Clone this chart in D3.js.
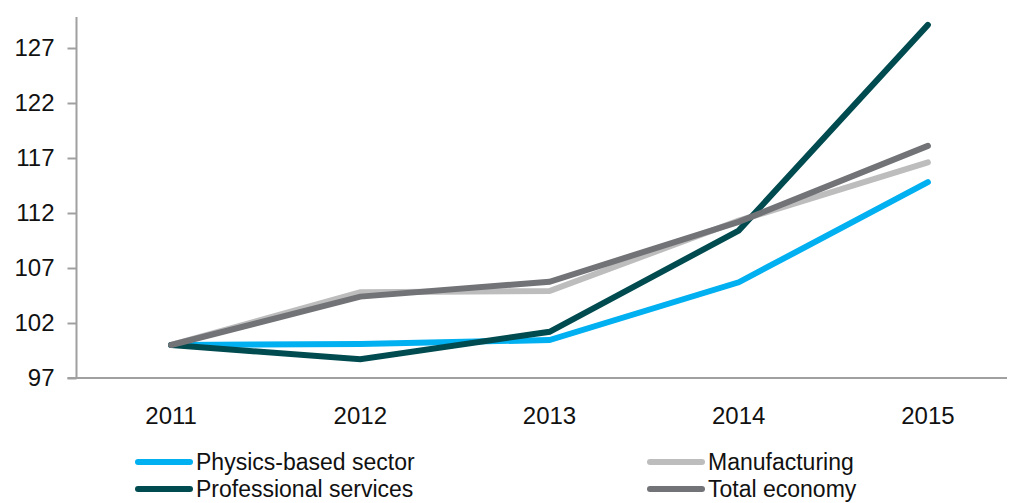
<!DOCTYPE html>
<html>
<head>
<meta charset="utf-8">
<script src="https://cdn.jsdelivr.net/npm/d3@7/dist/d3.min.js"></script>
<style>
  html, body { margin: 0; padding: 0; background: #fff; }
  svg { display: block; font-family: "Liberation Sans", Arial, sans-serif; }
</style>
</head>
<body>
<svg id="chart" width="1009" height="503"></svg>
<script>
// Index values by year (2011 = 100)
const years = ["2011", "2012", "2013", "2014", "2015"];
const physicsBased = [100, 100.1, 100.45, 105.7, 114.8];
const manufacturing = [100, 104.8, 104.9, 111.3, 116.6];
const professionalServices = [100, 98.7, 101.2, 110.4, 129.1];
const totalEconomy = [100, 104.4, 105.75, 111.2, 118.1];
const yTicks = [97, 102, 107, 112, 117, 122, 127];

const seriesNames = ["Physics-based sector", "Manufacturing", "Professional services", "Total economy"];
const seriesColors = ["#00B0F0", "#BDBDBD", "#004B50", "#727377"];
const seriesValues = [physicsBased, manufacturing, professionalServices, totalEconomy];

const series = seriesNames.map((name, i) => ({
  name, color: seriesColors[i], values: seriesValues[i]
}));

const svg = d3.select("#chart");
const axisLeftX = 76.5, axisRightX = 1007, plotTop = 17, plotBottom = 378;

const x = d3.scaleBand().domain(years).range([axisLeftX, axisLeftX + 5 * 189.2]).paddingInner(0).paddingOuter(0);
const y = d3.scaleLinear().domain([97, 97 + (plotBottom - plotTop) / 11]).range([plotBottom, plotTop]);

const axisColor = "#A0A0A0";

// Y axis
const yAxis = svg.append("g")
  .attr("transform", `translate(${axisLeftX},0)`)
  .call(d3.axisLeft(y).tickValues(yTicks).tickSize(9).tickPadding(6).tickFormat(d3.format("d")));
yAxis.select(".domain").remove();
yAxis.selectAll(".tick line").attr("stroke", axisColor).attr("stroke-width", 2);
yAxis.selectAll(".tick text")
  .attr("fill", "#111").style("font-size", "24px").attr("x", -22);
svg.append("line")
  .attr("x1", axisLeftX).attr("x2", axisLeftX)
  .attr("y1", plotTop).attr("y2", plotBottom)
  .attr("stroke", axisColor).attr("stroke-width", 2);

// X axis
const xAxis = svg.append("g")
  .attr("transform", `translate(0,${plotBottom})`)
  .call(d3.axisBottom(x).tickSize(0).tickPadding(29));
xAxis.select(".domain").remove();
xAxis.selectAll(".tick text").attr("fill", "#111").style("font-size", "24px");
svg.append("line")
  .attr("x1", axisLeftX - 9).attr("x2", axisRightX)
  .attr("y1", plotBottom).attr("y2", plotBottom)
  .attr("stroke", axisColor).attr("stroke-width", 2);

// Lines
const line = d3.line()
  .x((d, i) => x(years[i]) + x.bandwidth() / 2)
  .y(d => y(d));

svg.append("g").selectAll("path")
  .data(series)
  .join("path")
  .attr("d", d => line(d.values))
  .attr("fill", "none")
  .attr("stroke", d => d.color)
  .attr("stroke-width", 6)
  .attr("stroke-linecap", "round")
  .attr("stroke-linejoin", "miter");

// Legend: two columns, two rows
const legendCols = [136, 648];
const legendRows = [462, 489];
const legend = svg.append("g").selectAll("g")
  .data(series)
  .join("g")
  .attr("transform", (d, i) => `translate(${legendCols[i % 2]},${legendRows[Math.floor(i / 2)]})`);
legend.append("line")
  .attr("x1", 2).attr("x2", 54)
  .attr("stroke", d => d.color)
  .attr("stroke-width", 6)
  .attr("stroke-linecap", "round");
legend.append("text")
  .attr("x", 60).attr("y", 8)
  .attr("fill", "#111")
  .style("font-size", "23px")
  .text(d => d.name);
</script>
</body>
</html>
